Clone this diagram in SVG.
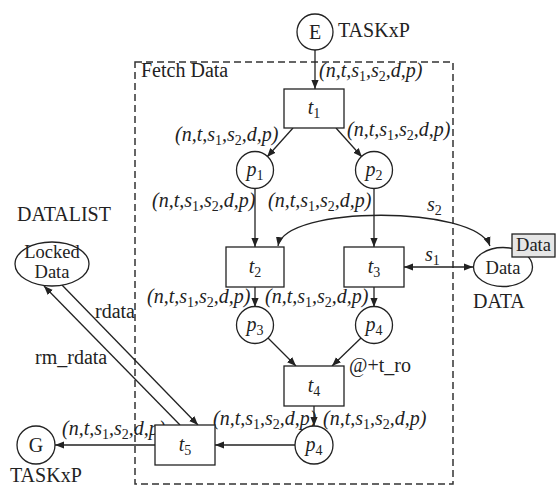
<svg xmlns="http://www.w3.org/2000/svg" width="557" height="486" viewBox="0 0 557 486">
<defs>
<marker id="ah" viewBox="0 0 10 10" refX="10" refY="5" markerWidth="9" markerHeight="9" markerUnits="userSpaceOnUse" orient="auto-start-reverse">
<path d="M0,1 L10,5 L0,9 z" fill="#222"/>
</marker>
</defs>
<style>
.sh{fill:#fff;stroke:#222;stroke-width:1.3}
.ln{fill:none;stroke:#222;stroke-width:1.3}
.ar{fill:none;stroke:#222;stroke-width:1.3;marker-end:url(#ah)}
.bi{fill:none;stroke:#222;stroke-width:1.3;marker-end:url(#ah);marker-start:url(#ah)}
text{font-family:"Liberation Serif","Times New Roman",serif;font-size:20px;fill:#222}
.it{font-style:italic}
.sub{font-style:normal;font-size:14px}
.c{text-anchor:middle}
.sm{font-size:18.5px}
</style>
<rect x="135" y="62" width="318" height="422" fill="none" stroke="#333" stroke-width="1.5" stroke-dasharray="7,4"/>
<text x="141" y="77">Fetch Data</text>
<g id="connectors">
<line class="ar" x1="315" y1="50" x2="315" y2="89"/>
<line class="ar" x1="293" y1="128" x2="267" y2="157"/>
<line class="ar" x1="336" y1="128" x2="362" y2="157"/>
<line class="ar" x1="255" y1="188" x2="255" y2="247"/>
<line class="ar" x1="374" y1="188" x2="374" y2="247"/>
<path class="bi" d="M278,246 C285,205 475,205 490,246"/>
<line class="bi" x1="404" y1="267" x2="473" y2="267"/>
<line class="ar" x1="255" y1="287" x2="255" y2="307"/>
<line class="ar" x1="374" y1="287" x2="374" y2="307"/>
<line class="ar" x1="268" y1="338" x2="296" y2="366"/>
<line class="ar" x1="361" y1="338" x2="332" y2="366"/>
<line class="ar" x1="314" y1="406" x2="314" y2="426"/>
<line class="ar" x1="295" y1="445" x2="215" y2="445"/>
<line class="ar" x1="155" y1="445" x2="55" y2="445"/>
<line class="ar" x1="180" y1="425" x2="44" y2="286"/>
<line class="ar" x1="62" y1="285" x2="198" y2="425"/>
</g>
<g id="labels">
<text class="it" x="319" y="77">(n,t,s<tspan class="sub" dy="4">1</tspan><tspan dy="-4">,s</tspan><tspan class="sub" dy="4">2</tspan><tspan dy="-4">,d,p)</tspan></text>
<text class="it" x="175" y="141">(n,t,s<tspan class="sub" dy="4">1</tspan><tspan dy="-4">,s</tspan><tspan class="sub" dy="4">2</tspan><tspan dy="-4">,d,p)</tspan></text>
<text class="it" x="347" y="136">(n,t,s<tspan class="sub" dy="4">1</tspan><tspan dy="-4">,s</tspan><tspan class="sub" dy="4">2</tspan><tspan dy="-4">,d,p)</tspan></text>
<text class="it" x="152" y="207">(n,t,s<tspan class="sub" dy="4">1</tspan><tspan dy="-4">,s</tspan><tspan class="sub" dy="4">2</tspan><tspan dy="-4">,d,p)</tspan></text>
<text class="it" x="268" y="207">(n,t,s<tspan class="sub" dy="4">1</tspan><tspan dy="-4">,s</tspan><tspan class="sub" dy="4">2</tspan><tspan dy="-4">,d,p)</tspan></text>
<text class="it" x="147" y="303">(n,t,s<tspan class="sub" dy="4">1</tspan><tspan dy="-4">,s</tspan><tspan class="sub" dy="4">2</tspan><tspan dy="-4">,d,p)</tspan></text>
<text class="it" x="265" y="303">(n,t,s<tspan class="sub" dy="4">1</tspan><tspan dy="-4">,s</tspan><tspan class="sub" dy="4">2</tspan><tspan dy="-4">,d,p)</tspan></text>
<text class="it" x="213" y="425">(n,t,s<tspan class="sub" dy="4">1</tspan><tspan dy="-4">,s</tspan><tspan class="sub" dy="4">2</tspan><tspan dy="-4">,d,p)</tspan></text>
<text class="it" x="323" y="425">(n,t,s<tspan class="sub" dy="4">1</tspan><tspan dy="-4">,s</tspan><tspan class="sub" dy="4">2</tspan><tspan dy="-4">,d,p)</tspan></text>
<text class="it" x="62" y="435">(n,t,s<tspan class="sub" dy="4">1</tspan><tspan dy="-4">,s</tspan><tspan class="sub" dy="4">2</tspan><tspan dy="-4">,d,p)</tspan></text>
<text class="it" x="427" y="211">s<tspan class="sub" dy="4">2</tspan></text>
<text class="it" x="425" y="261">s<tspan class="sub" dy="4">1</tspan></text>
<text x="349" y="372">@+t_ro</text>
<text x="95" y="318">rdata</text>
<text x="35" y="364">rm_rdata</text>
</g>
<g id="E"><circle class="sh" cx="315" cy="32" r="18"/><text class="c" x="315" y="38.5">E</text><text x="338" y="37">TASKxP</text></g>
<g id="t1"><rect class="sh" x="284" y="89" width="60" height="39"/><text class="c it" x="314" y="114">t<tspan class="sub" dy="4">1</tspan></text></g>
<g id="p1"><circle class="sh" cx="255" cy="170" r="18.5"/><text class="c it" x="255" y="176">p<tspan class="sub" dy="4">1</tspan></text></g>
<g id="p2"><circle class="sh" cx="374" cy="170" r="18.5"/><text class="c it" x="374" y="176">p<tspan class="sub" dy="4">2</tspan></text></g>
<g id="t2"><rect class="sh" x="226" y="247" width="58" height="40"/><text class="c it" x="255" y="273">t<tspan class="sub" dy="4">2</tspan></text></g>
<g id="t3"><rect class="sh" x="344" y="247" width="60" height="40"/><text class="c it" x="374" y="273">t<tspan class="sub" dy="4">3</tspan></text></g>
<g id="Data"><ellipse class="sh" cx="503" cy="267" rx="29.5" ry="19.5"/><text class="c sm" x="503" y="274">Data</text><rect x="512" y="234" width="43" height="23" fill="#e6e6e6" stroke="#222" stroke-width="1.3"/><text class="c sm" x="533.5" y="251">Data</text><text x="473" y="308">DATA</text></g>
<g id="LockedData"><text x="17" y="221">DATALIST</text><ellipse class="sh" cx="52" cy="264" rx="37" ry="22"/><text class="c sm" x="52" y="258">Locked</text><text class="c sm" x="52" y="278">Data</text></g>
<g id="p3"><circle class="sh" cx="255" cy="325" r="18.5"/><text class="c it" x="255" y="331">p<tspan class="sub" dy="4">3</tspan></text></g>
<g id="p4a"><circle class="sh" cx="374" cy="325" r="18.5"/><text class="c it" x="374" y="331">p<tspan class="sub" dy="4">4</tspan></text></g>
<g id="t4"><rect class="sh" x="284" y="366" width="60" height="40"/><text class="c it" x="314" y="392">t<tspan class="sub" dy="4">4</tspan></text></g>
<g id="p4b"><circle class="sh" cx="314" cy="445" r="19"/><text class="c it" x="314" y="451">p<tspan class="sub" dy="4">4</tspan></text></g>
<g id="t5"><rect class="sh" x="155" y="425" width="60" height="40"/><text class="c it" x="185" y="451">t<tspan class="sub" dy="4">5</tspan></text></g>
<g id="G"><circle class="sh" cx="36" cy="445" r="19"/><text class="c" x="36" y="451.5">G</text><text x="10" y="482">TASKxP</text></g>
</svg>
